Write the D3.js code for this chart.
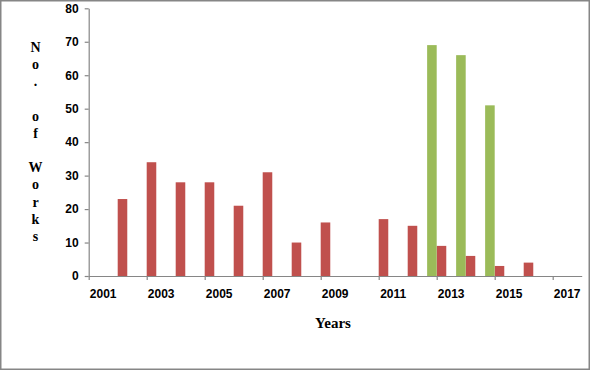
<!DOCTYPE html>
<html><head><meta charset="utf-8">
<script src="https://cdn.jsdelivr.net/npm/d3@7"></script>
<style>body{margin:0;background:#fff}</style>
</head><body>
<svg id="c" width="590" height="370"></svg>
<script>
const years = [2001,2002,2003,2004,2005,2006,2007,2008,2009,2010,2011,2012,2013,2014,2015,2016];
const redValues = [23,34,28,28,21,31,10,16,null,17,15,9,6,3,4,null];
const greenValues = [null,null,null,null,null,null,null,null,null,null,null,69,66,51,null,null];
const yTicks = [0,10,20,30,40,50,60,70,80];
const xTickLabels = [2001,2003,2005,2007,2009,2011,2013,2015,2017];
const yTitle = "No. of Works";
const xTitle = "Years";

const svg = d3.select("#c");
svg.append("rect").attr("x",0.75).attr("y",0.75).attr("width",588.5).attr("height",368.5)
  .attr("fill","#fff").attr("stroke","#868686").attr("stroke-width",1.5);

const x = d3.scaleLinear().domain([2000.5,2017.5]).range([88.7,581.7]);
const y = d3.scaleLinear().domain([0,80]).range([276,8.3]);
const bw = x(2000.5+0.33)-x(2000.5);
const axisColor = "#868686";

// bars
const g = svg.append("g");
g.selectAll(".red").data(years.map((yr,i)=>({yr,v:redValues[i]})).filter(d=>d.v!=null))
  .join("rect").attr("fill","#C0504D")
  .attr("x",d=>x(d.yr+0.5)).attr("width",bw)
  .attr("y",d=>y(d.v)).attr("height",d=>y(0)-y(d.v));
g.selectAll(".green").data(years.map((yr,i)=>({yr,v:greenValues[i]})).filter(d=>d.v!=null))
  .join("rect").attr("fill","#9BBB59")
  .attr("x",d=>x(d.yr+0.5)-bw).attr("width",bw)
  .attr("y",d=>y(d.v)).attr("height",d=>y(0)-y(d.v));

// y axis
const ya = svg.append("g").attr("transform",`translate(${x(2000.5)},0)`)
  .call(d3.axisLeft(y).tickValues(yTicks).tickSize(4).tickSizeOuter(0).tickPadding(6));
ya.select(".domain").attr("stroke",axisColor).attr("stroke-width",1.2);
ya.selectAll(".tick line").attr("stroke",axisColor).attr("stroke-width",1.2);
ya.selectAll(".tick text").attr("fill","#000").style("font","bold 12px 'Liberation Sans', Arial, sans-serif");

// x axis line
const xa = svg.append("g").attr("transform",`translate(0,${y(0)})`)
  .call(d3.axisBottom(x).tickValues(xTickLabels.map(v=>v-0.5)).tickSize(4).tickSizeOuter(0).tickFormat(""));
xa.select(".domain").attr("stroke",axisColor).attr("stroke-width",1.2);
xa.selectAll(".tick line").attr("stroke",axisColor).attr("stroke-width",1.2);
svg.append("g").selectAll("text").data(xTickLabels).join("text")
  .attr("x",d=>x(d)).attr("y",298).attr("text-anchor","middle")
  .style("font","bold 12px 'Liberation Sans', Arial, sans-serif").text(d=>d);

// titles
svg.append("text").attr("x",333).attr("y",328).attr("text-anchor","middle")
  .style("font","bold 15px 'Liberation Serif', 'Times New Roman', serif").text(xTitle);
svg.append("g").selectAll("text").data(yTitle.split("")).join("text")
  .attr("x",35.5).attr("y",(d,i)=>51.7+i*17.2).attr("text-anchor","middle")
  .style("font","bold 14px 'Liberation Serif', 'Times New Roman', serif").text(d=>d);
</script>
</body></html>
